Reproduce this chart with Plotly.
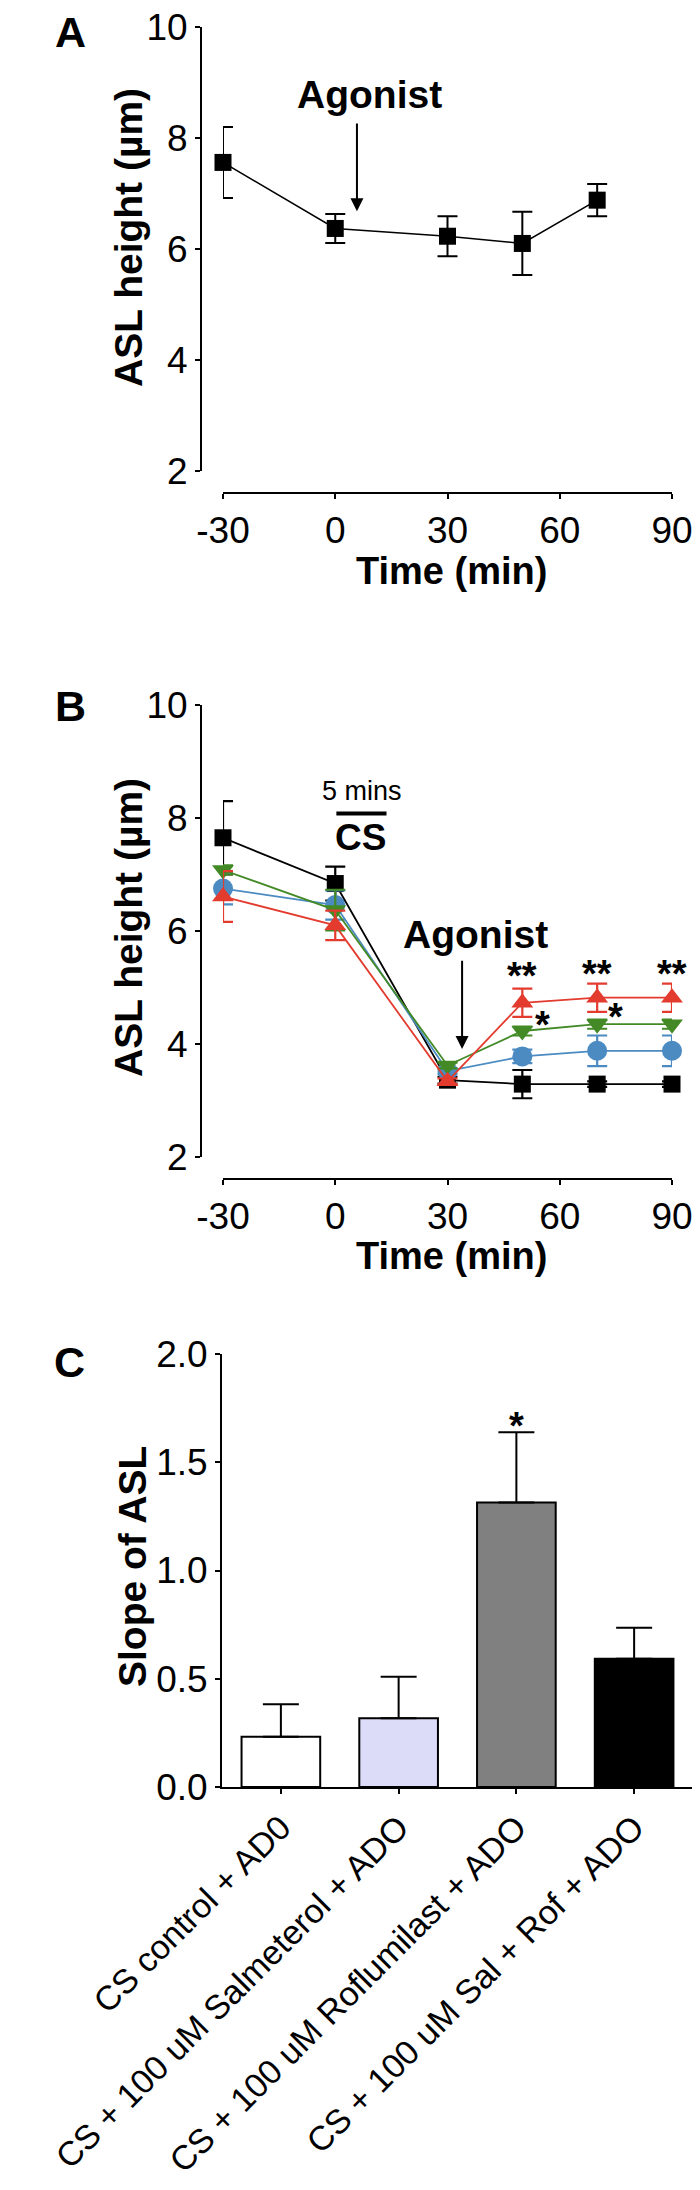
import plotly.graph_objects as go

# ---------------- Data ----------------
# Panel A
a_time = [-30, 0, 30, 50, 70]
a_mean = [7.56, 6.37, 6.23, 6.10, 6.88]
a_err = [0.64, 0.26, 0.36, 0.57, 0.29]

# Panel B
b_time = [-30, 0, 30, 50, 70, 90]
b_black = [7.65, 6.84, 3.36, 3.29, 3.29, 3.29]
b_black_err = [0.65, 0.30, 0.06, 0.25, 0.05, 0.05]
b_blue = [6.75, 6.46, 3.52, 3.78, 3.88, 3.88]
b_blue_err = [0.28, 0.26, 0.05, 0.12, 0.27, 0.27]
b_green = [7.08, 6.37, 3.62, 4.23, 4.35, 4.35]
b_green_err = [0.08, 0.36, 0.05, 0.08, 0.08, 0.08]
b_red = [6.61, 6.10, 3.34, 4.73, 4.82, 4.82]
b_red_err = [0.45, 0.26, 0.05, 0.25, 0.25, 0.25]

b_dstar_x = [50, 70, 90]
b_dstar_y = [5.20, 5.24, 5.24]
b_star_x = [55.3, 74.8, 94.5]
b_star_y = [4.33, 4.47, 4.47]

cs_bar_x = [0.3, 13.7]
cs_bar_y = [8.08, 8.08]

time_ticks = [-30, 0, 30, 60, 90]
time_ticktext = ["-30", "0", "30", "60", "90"]
asl_ticks = [2, 4, 6, 8, 10]

# Panel C
c_labels = ["CS control + AD0", "CS + 100 uM Salmeterol + ADO",
            "CS + 100 uM Roflumilast + ADO", "CS + 100 uM Sal + Rof + ADO"]
c_vals = [0.232, 0.318, 1.314, 0.592]
c_err = [0.150, 0.191, 0.325, 0.144]
c_colors = ["#ffffff", "#dcdcf8", "#808080", "#000000"]
c_ticks = [0, 0.5, 1.0, 1.5, 2.0]
c_ticktext = ["0.0", "0.5", "1.0", "1.5", "2.0"]

# ---------------- Layout helpers ----------------
# page body has an 8px default margin: size the figure to fill the rest of the window
OFF = 8
W, H = 700 - OFF, 2190 - OFF
def px(x):  # screen pixel -> paper fraction
    return (x - OFF) / W
def py(y):
    return 1 - (y - OFF) / H

FONT = "Liberation Sans, Arial, sans-serif"
TICKF = dict(family=FONT, size=37, color="black")
RED, GREEN, BLUE = "#e33b2e", "#438a27", "#4b8bc2"

fig = go.Figure()

# Panel A
fig.add_trace(go.Scatter(
    x=a_time, y=a_mean, mode="lines+markers", xaxis="x", yaxis="y",
    line=dict(color="black", width=1.6),
    marker=dict(symbol="square", size=17, color="black"),
    error_y=dict(type="data", array=a_err, color="black", thickness=2, width=10),
    cliponaxis=False, showlegend=False))

# Panel B
def add_b(vals, errs, color, symbol, size):
    fig.add_trace(go.Scatter(
        x=b_time, y=vals, mode="lines+markers", xaxis="x2", yaxis="y2",
        line=dict(color=color, width=1.8),
        marker=dict(symbol=symbol, size=size, color=color),
        error_y=dict(type="data", array=errs, color=color, thickness=2.2, width=10),
        cliponaxis=False, showlegend=False))

add_b(b_black, b_black_err, "black", "square", 17)
add_b(b_blue, b_blue_err, BLUE, "circle", 20)
add_b(b_green, b_green_err, GREEN, "triangle-down", 19)
add_b(b_red, b_red_err, RED, "triangle-up", 19)

fig.add_trace(go.Scatter(
    x=cs_bar_x, y=cs_bar_y, mode="lines", xaxis="x2", yaxis="y2",
    line=dict(color="black", width=4), cliponaxis=False, showlegend=False))

# Panel C
fig.add_trace(go.Bar(
    x=c_labels, y=c_vals, xaxis="x3", yaxis="y3", width=0.668,
    marker=dict(color=c_colors, line=dict(color="black", width=2)),
    error_y=dict(type="data", array=c_err, arrayminus=[0]*len(c_err), symmetric=False,
                 color="black", thickness=2, width=18),
    showlegend=False))

common_axis = dict(showline=True, linecolor="black", linewidth=2, ticks="outside",
                   ticklen=5, tickwidth=2, tickcolor="black", showgrid=False,
                   zeroline=False, tickfont=TICKF, automargin=False,
                   ticklabeloverflow="allow")

fig.update_layout(
    width=W, height=H, margin=dict(l=0, r=0, t=0, b=0, autoexpand=False),
    paper_bgcolor="white", plot_bgcolor="white",
    font=dict(family=FONT, color="black"),
    xaxis=dict(domain=[px(223), px(672)], anchor="free", position=py(493),
               range=[-30, 90], tickvals=time_ticks, ticktext=time_ticktext, **common_axis),
    yaxis=dict(domain=[py(471), py(27)], anchor="free", position=px(201),
               range=[2, 10], tickvals=asl_ticks, **common_axis),
    xaxis2=dict(domain=[px(223), px(672)], anchor="free", position=py(1179),
                range=[-30, 90], tickvals=time_ticks, ticktext=time_ticktext, **common_axis),
    yaxis2=dict(domain=[py(1157), py(705)], anchor="free", position=px(201),
                range=[2, 10], tickvals=asl_ticks, **common_axis),
    xaxis3=dict(domain=[px(222), px(693)], anchor="y3", range=[-0.5, 3.5],
                tickangle=-45, **{**common_axis, "tickfont": dict(family=FONT, size=34, color="black")}),
    yaxis3=dict(domain=[py(1787), py(1354)], anchor="x3", range=[0, 2],
                tickvals=c_ticks, ticktext=c_ticktext, **common_axis),
)

ann = []
def text(x, y, s, size, bold=False, angle=0, xref="paper", yref="paper"):
    ann.append(dict(x=x, y=y, xref=xref, yref=yref, text=("<b>%s</b>" % s) if bold else s,
                    showarrow=False, textangle=angle, xanchor="center", yanchor="middle",
                    font=dict(family=FONT, size=size, color="black")))

# Panel letters
text(px(70), py(32), "A", 43, True)
text(px(70), py(706), "B", 43, True)
text(px(69), py(1362), "C", 43, True)

# Axis titles
text(px(128), py(238), "ASL height (µm)", 39, True, -90)
text(px(452), py(571), "Time (min)", 38, True)
text(px(128), py(928), "ASL height (µm)", 39, True, -90)
text(px(452), py(1256), "Time (min)", 38, True)
text(px(132), py(1567), "Slope of ASL", 39, True, -90)

# Panel A annotations
text(9.2, 8.79, "Agonist", 39, True, xref="x", yref="y")
ann.append(dict(x=5.8, y=6.68, ax=5.8, ay=8.29, xref="x", yref="y", axref="x", ayref="y",
                text="", showarrow=True, arrowhead=2, arrowsize=1.3, arrowwidth=2, arrowcolor="black"))

# Panel B annotations
text(7.2, 8.48, "5 mins", 27, False, xref="x2", yref="y2")
text(6.8, 7.65, "CS", 37, True, xref="x2", yref="y2")
text(37.5, 5.94, "Agonist", 39, True, xref="x2", yref="y2")
ann.append(dict(x=33.9, y=3.91, ax=33.9, ay=5.50, xref="x2", yref="y2", axref="x2", ayref="y2",
                text="", showarrow=True, arrowhead=2, arrowsize=1.3, arrowwidth=2, arrowcolor="black"))
for xv, yv in zip(b_dstar_x, b_dstar_y):
    text(xv, yv, "**", 38, True, xref="x2", yref="y2")
for xv, yv in zip(b_star_x, b_star_y):
    text(xv, yv, "*", 38, True, xref="x2", yref="y2")

# Panel C star
text(c_labels[2], c_vals[2] + c_err[2] + 0.03, "*", 38, True, xref="x3", yref="y3")

fig.update_layout(annotations=ann)
fig.write_html("out.html")
